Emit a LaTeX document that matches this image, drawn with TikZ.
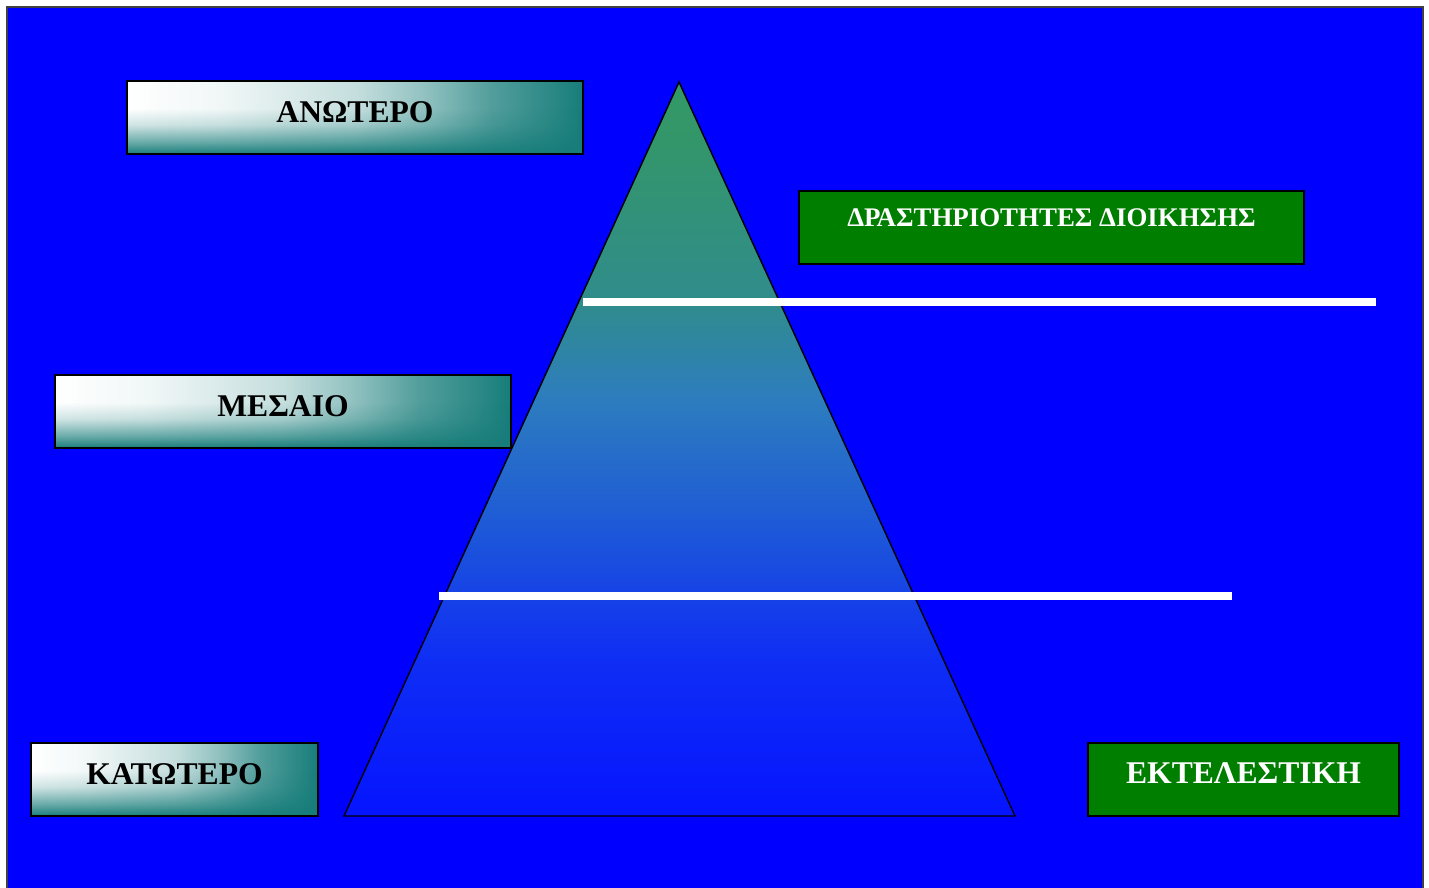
\documentclass[tikz,border=0pt]{standalone}
\usepackage{fontspec}
\setmainfont{Liberation Serif}
\usetikzlibrary{fadings}

\definecolor{bgblue}{RGB}{0,0,255}
\definecolor{boxteal}{RGB}{23,125,122}
\definecolor{boxgreen}{RGB}{0,126,0}
\definecolor{pyrA}{RGB}{51,153,102}
\definecolor{pyrB}{RGB}{51,150,106}
\definecolor{pyrC}{RGB}{48,140,140}
\definecolor{pyrD}{RGB}{45,125,190}
\definecolor{pyrE}{RGB}{30,90,215}
\definecolor{pyrF}{RGB}{15,45,245}
\definecolor{pyrG}{RGB}{5,20,255}

% pyramid colours, top (75bp) to bottom (25bp)
\pgfdeclareverticalshading{pyramidshade}{100bp}{color(0bp)=(pyrG); color(25bp)=(pyrG);
    color(35.5bp)=(pyrF); color(45bp)=(pyrE); color(53.5bp)=(pyrD); color(60bp)=(pyrC);
    color(71bp)=(pyrB); color(75bp)=(pyrA); color(100bp)=(pyrA)}
% level boxes, white on the left to teal on the right
\pgfdeclarehorizontalshading{levelshade}{100bp}{color(0bp)=(white); color(25bp)=(white);
    color(35bp)=(boxteal!6); color(50bp)=(boxteal!25); color(57.5bp)=(boxteal!47);
    color(65bp)=(boxteal!75); color(75bp)=(boxteal); color(100bp)=(boxteal)}
\pgfdeclareverticalshading{bottomfadeshade}{100bp}{color(0bp)=(white); color(25bp)=(white);
    color(33bp)=(white!65!black); color(45bp)=(white!20!black); color(56bp)=(black); color(100bp)=(black)}
\pgfdeclarefading{bottomfade}{\pgfuseshading{bottomfadeshade}}

\begin{document}
\begin{tikzpicture}[x=0.02cm,y=-0.02cm,
    level/.style={inner sep=0pt, outer sep=0pt, minimum height=1.46cm,
        text depth=6.8pt, font=\fontsize{18}{20}\selectfont\bfseries,
        shade, shading=levelshade,
        postaction={fill=boxteal, path fading=bottomfade},
        postaction={draw=black, line width=1.1pt}},
    task/.style={inner sep=0pt, outer sep=0pt, minimum height=1.46cm,
        fill=boxgreen, draw=black, line width=1.1pt, text=white,
        font=\fontsize{18}{20}\selectfont\bfseries, text depth=6.8pt},
    divider/.style={draw=white, line width=0.15cm}]
    \useasboundingbox (0,0) rectangle (1429,887);
    \filldraw[fill=bgblue, draw=black!75, line width=1.2pt] (7,7) rectangle (1423,900);

    % pyramid
    \coordinate (apex) at (679,82);
    \coordinate (bl) at (344,816);
    \coordinate (br) at (1015,816);
    \shade[shading=pyramidshade] (apex) -- (br) -- (bl) -- cycle;
    \draw[line width=0.8pt, line join=miter] (apex) -- (br) -- (bl) -- cycle;

    % levels
    \node[level, minimum width=9.12cm] (anotero) at (355,117.5) {ΑΝΩΤΕΡΟ};
    \node[level, minimum width=9.12cm] (mesaio) at (283,411.5) {ΜΕΣΑΙΟ};
    \node[level, minimum width=5.74cm] (katotero) at (174.5,779.5) {ΚΑΤΩΤΕΡΟ};

    \node[task, minimum width=10.1cm, font=\fontsize{15.3}{17}\selectfont\bfseries, text depth=11.4pt] (dioikisi) at (1051.5,227.5) {ΔΡΑΣΤΗΡΙΟΤΗΤΕΣ ΔΙΟΙΚΗΣΗΣ};
    \node[task, minimum width=6.22cm] (ektelestiki) at (1243.5,779.5) {ΕΚΤΕΛΕΣΤΙΚΗ};

    % dividers
    \coordinate (d1a) at (583,302);
    \coordinate (d1b) at (1376,302);
    \coordinate (d2a) at (439,596);
    \coordinate (d2b) at (1232,596);
    \draw[divider] (d1a) -- (d1b);
    \draw[divider] (d2a) -- (d2b);
\end{tikzpicture}
\end{document}
